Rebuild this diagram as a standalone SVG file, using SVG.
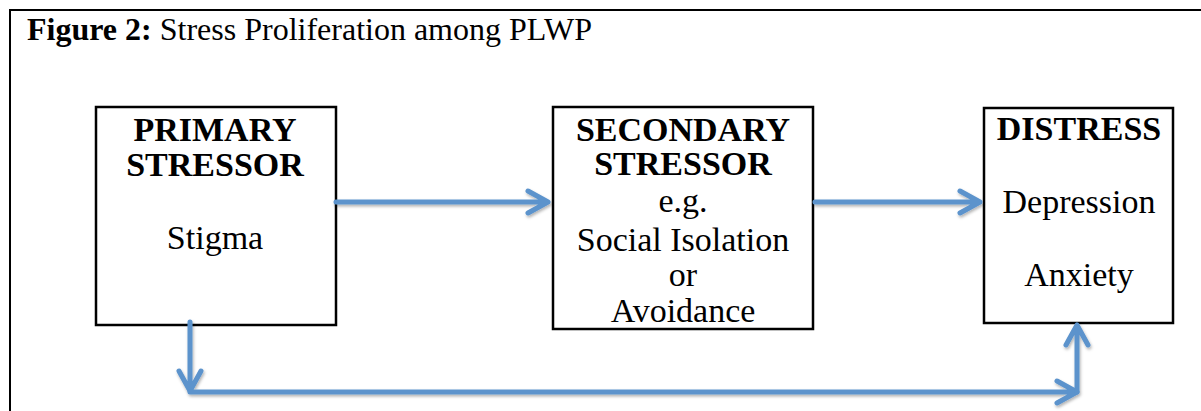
<svg xmlns="http://www.w3.org/2000/svg" width="1201" height="411" viewBox="0 0 1201 411">
<defs>
<style>
.frame{fill:none;stroke:#000;stroke-width:2}
.box{fill:#fff;stroke:#000;stroke-width:2.5}
.t{font-family:"Liberation Serif","Times New Roman",serif;font-size:34px;fill:#000;text-anchor:middle}
.b{font-weight:bold}
.title{font-family:"Liberation Serif","Times New Roman",serif;font-size:32px;fill:#000}
.con{fill:none;stroke:#5b93cc;stroke-width:5;stroke-linecap:round;stroke-linejoin:round}
</style>
<filter id="sh" x="-5%" y="-20%" width="110%" height="140%">
<feDropShadow dx="1" dy="2" stdDeviation="1.5" flood-color="#000" flood-opacity="0.3"/>
</filter>
</defs>
<rect width="1201" height="411" fill="#fff"/>
<path class="frame" d="M10,411 V10 H1201"/>
<text class="title" x="27" y="40"><tspan font-weight="bold">Figure 2:</tspan> Stress Proliferation among PLWP</text>

<g id="primary">
<rect class="box" x="96" y="107" width="240" height="218"/>
<text class="t b" x="215" y="141">PRIMARY</text>
<text class="t b" x="215" y="176">STRESSOR</text>
<text class="t" x="215" y="249">Stigma</text>
</g>

<g id="secondary">
<rect class="box" x="553" y="107" width="260" height="222"/>
<text class="t b" x="683" y="141">SECONDARY</text>
<text class="t b" x="683" y="175">STRESSOR</text>
<text class="t" x="683" y="212">e.g.</text>
<text class="t" x="683" y="251">Social Isolation</text>
<text class="t" x="683" y="286">or</text>
<text class="t" x="683" y="322">Avoidance</text>
</g>

<g id="distress">
<rect class="box" x="984" y="108" width="189" height="215"/>
<text class="t b" x="1079" y="140">DISTRESS</text>
<text class="t" x="1079" y="213">Depression</text>
<text class="t" x="1079" y="286">Anxiety</text>
</g>

<g id="connectors" filter="url(#sh)">
<path class="con" d="M336,202 H548 M528,191 L548,202 L528,213"/>
<path class="con" d="M815,202 H980 M960,191 L980,202 L960,213"/>
<path class="con" d="M190,322 V391 M179,371 L190,391 L201,371"/>
<path class="con" d="M190,392 H1077 M1057,381 L1077,392 L1057,403"/>
<path class="con" d="M1077,392 V325 M1066,345 L1077,325 L1088,345"/>
</g>
</svg>
